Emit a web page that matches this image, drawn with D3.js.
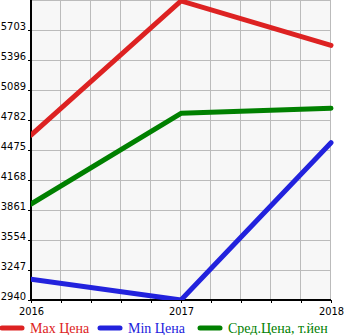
<!DOCTYPE html>
<html><head><meta charset="utf-8">
<script src="https://cdn.jsdelivr.net/npm/d3@7"></script>
<style>body{margin:0;background:#fff;}svg{display:block;}</style>
</head><body>
<script>
const years = [2016, 2017, 2018];
const maxPrice = [4628, 6000, 5546];
const minPrice = [3152, 2940, 4550];
const avgPrice = [3922, 4850, 4902];
const yTicks = [2940, 3247, 3554, 3861, 4168, 4475, 4782, 5089, 5396, 5703];
const seriesNames = ["Max Цена", "Min Цена", "Сред.Цена, т.йен"];
const colors = ["#dd2222", "#2222dd", "#008000"];

(function () {
const W = 345, H = 335;
const pl = 31, pr = 331, pt = 0, pb = 300;
const svg = d3.select("body").append("svg").attr("width", W).attr("height", H);

const x = d3.scaleLinear().domain([2016, 2018]).range([pl, pr]);
const y = d3.scaleLinear().domain([2940, 6010]).range([pb, pt]);

svg.append("rect").attr("x", pl).attr("y", pt).attr("width", pr - pl).attr("height", pb - pt).attr("fill", "#f7f7f7");

// grid
const xGrid = d3.range(0, 11).map(i => 2016 + i * 0.2);
svg.append("g").selectAll("line").data(xGrid.slice(1)).join("line")
  .attr("x1", d => Math.round(x(d)) - 0.5).attr("x2", d => Math.round(x(d)) - 0.5)
  .attr("y1", pt).attr("y2", pb).attr("stroke", "#bbbbbb").attr("stroke-width", 1);
const yGrid = yTicks.concat([6010]);
svg.append("g").selectAll("line").data(yGrid.slice(1)).join("line")
  .attr("x1", pl).attr("x2", pr)
  .attr("y1", d => Math.round(y(d)) + 0.5).attr("y2", d => Math.round(y(d)) + 0.5)
  .attr("stroke", "#bbbbbb").attr("stroke-width", 1);

// axes
const yAxis = d3.axisLeft(y).tickValues(yTicks).tickSize(3).tickPadding(2).tickFormat(d3.format("d"));
const gy = svg.append("g").attr("transform", `translate(${pl},0)`).call(yAxis);
gy.select(".domain").remove();
gy.selectAll("line").attr("stroke", "#000");
gy.selectAll("text").attr("font-family", "'DejaVu Sans Condensed', 'DejaVu Sans', sans-serif").attr("font-size", 11).attr("fill", "#000").attr("dy", -1);

const xAxis = d3.axisBottom(x).tickValues(xGrid).tickSize(3).tickPadding(4)
  .tickFormat(d => years.includes(Math.round(d * 1000) / 1000) ? d3.format("d")(d) : "");
const gx = svg.append("g").attr("transform", `translate(0,${pb})`).call(xAxis);
gx.select(".domain").remove();
gx.selectAll("line").attr("stroke", "#000");
gx.selectAll("text").attr("font-family", "'DejaVu Sans Condensed', 'DejaVu Sans', sans-serif").attr("font-size", 11).attr("fill", "#000");

svg.append("line").attr("x1", pl).attr("x2", pl).attr("y1", pt).attr("y2", pb + 1).attr("stroke", "#000").attr("stroke-width", 2);
svg.append("line").attr("x1", pl - 1).attr("x2", pr).attr("y1", pb).attr("y2", pb).attr("stroke", "#000").attr("stroke-width", 2);

// lines
const data = [maxPrice, minPrice, avgPrice];
const line = d3.line().x((d, i) => x(years[i])).y(d => y(d));
svg.append("clipPath").attr("id", "c").append("rect").attr("x", pl).attr("y", -5).attr("width", pr - pl + 5).attr("height", pb + 5);
data.forEach((s, k) => {
  svg.append("path").attr("d", line(s)).attr("fill", "none").attr("stroke", colors[k])
    .attr("stroke-width", 5).attr("stroke-linecap", "round").attr("stroke-linejoin", "round")
    .attr("clip-path", "url(#c)");
});

// legend
const legX = [2, 100, 200];
seriesNames.forEach((n, k) => {
  const g = svg.append("g").attr("transform", `translate(${legX[k]},328)`);
  g.append("line").attr("x1", 0).attr("x2", 20).attr("y1", 0).attr("y2", 0)
    .attr("stroke", colors[k]).attr("stroke-width", 5).attr("stroke-linecap", "round");
  g.append("text").attr("x", 28).attr("y", 5).text(n).attr("fill", colors[k])
    .attr("font-family", "'Liberation Serif', 'DejaVu Serif', serif").attr("font-size", 14);
});
})();
</script>
</body></html>
